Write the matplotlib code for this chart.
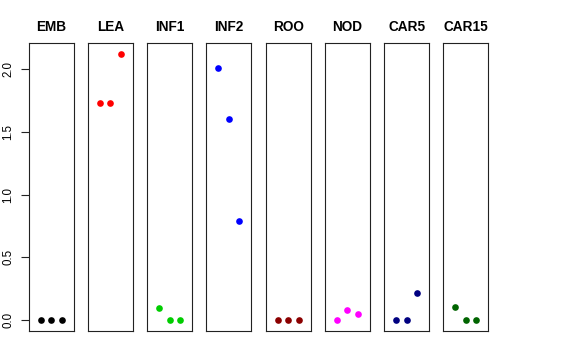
import matplotlib
matplotlib.use("Agg")
import matplotlib.pyplot as plt
import numpy as np

plt.rcParams['font.family'] = ['Liberation Sans', 'DejaVu Sans']

tissues = ["EMB", "LEA", "INF1", "INF2", "ROO", "NOD", "CAR5", "CAR15"]
colors = ["#000000", "#FF0000", "#00CD00", "#0000FF", "#8B0000", "#FF00FF", "#000080", "#006400"]
EMB = [0.0, 0.0, 0.0]
LEA = [1.73, 1.73, 2.12]
INF1 = [0.10, 0.0, 0.0]
INF2 = [2.01, 1.60, 0.79]
ROO = [0.0, 0.0, 0.0]
NOD = [0.0, 0.077, 0.046]
CAR5 = [0.0, 0.0, 0.212]
CAR15 = [0.106, 0.0, 0.0]
series = [EMB, LEA, INF1, INF2, ROO, NOD, CAR5, CAR15]
yticks = [0.0, 0.5, 1.0, 1.5, 2.0]
ytick_labels = ["0.0", "0.5", "1.0", "1.5", "2.0"]

allv = np.concatenate([np.array(s) for s in series])
rng = allv.max() - allv.min()
ylim = (allv.min() - 0.04 * rng, allv.max() + 0.04 * rng)

fig = plt.figure(figsize=(5.76, 3.6), dpi=100)
W, H = 576.0, 360.0
left0, pw, step = 28.7, 44.8, 59.25
top, bottom = 43.3, 330.7

for i, (name, vals, col) in enumerate(zip(tissues, series, colors)):
    x0 = left0 + i * step
    ax = fig.add_axes([x0 / W, 1 - bottom / H, pw / W, (bottom - top) / H])
    ax.plot([1, 2, 3], vals, 'o', color=col, markersize=4.8, markeredgewidth=0)
    ax.set_xlim(-0.125, 4.125)
    ax.set_ylim(*ylim)
    ax.set_xticks([])
    for sp in ax.spines.values():
        sp.set_linewidth(0.8)
        sp.set_color('#222222')
    ax.set_title(name, fontsize=9.8, fontweight='bold', pad=8.5)
    if i == 0:
        ax.set_yticks(yticks)
        ax.set_yticklabels(ytick_labels, rotation=90, va='center', fontsize=8.3)
        ax.tick_params(axis='y', length=5.5, width=0.8, pad=5, color='#222222')
    else:
        ax.set_yticks([])

fig.savefig("out.png", dpi=100)
